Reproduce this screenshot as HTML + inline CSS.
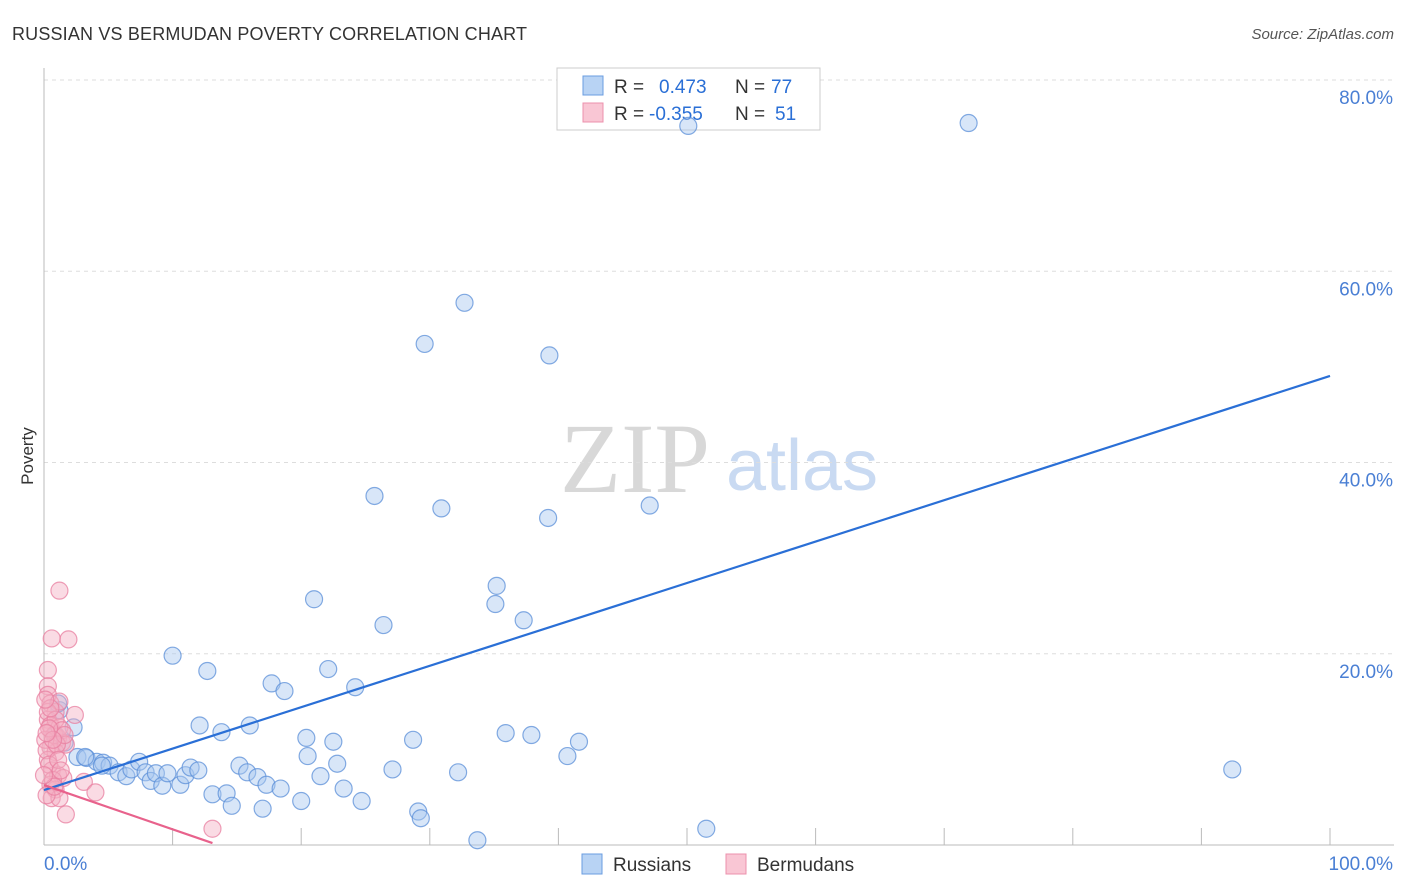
<!DOCTYPE html>
<html><head><meta charset="utf-8"><style>
body{margin:0;background:#fff;font-family:"Liberation Sans",sans-serif;}
svg{display:block}
</style></head><body>
<svg id="chart" width="1406" height="892" viewBox="0 0 1406 892">
<text x="12" y="40" font-size="18" fill="#333" textLength="515">RUSSIAN VS BERMUDAN POVERTY CORRELATION CHART</text>
<text x="1394" y="39" font-size="15" fill="#555" text-anchor="end" font-style="italic">Source: ZipAtlas.com</text>
<text x="33" y="456" font-size="17" fill="#333" text-anchor="middle" transform="rotate(-90 33 456)">Poverty</text>
<g>
<text x="635" y="492" font-size="100" fill="#d8d8d8" text-anchor="middle" font-family="Liberation Serif,serif">ZIP</text>
<text x="802" y="490" font-size="72" fill="#c9daf2" text-anchor="middle">atlas</text>
</g>
<g id="grid"></g><g id="axes"></g>
<g>
<rect x="557" y="68" width="263" height="62" fill="#fff" stroke="#ccc"/>
<rect x="583" y="76" width="20" height="19" fill="#b8d3f4" stroke="#6a9ce0"/>
<rect x="583" y="103" width="20" height="19" fill="#f9c6d4" stroke="#ec90ac"/>
<text font-size="19" fill="#333"><tspan x="614" y="93">R =</tspan><tspan x="659" y="93" fill="#2a6fd6">0.473</tspan><tspan x="735" y="93">N =</tspan><tspan x="771" y="93" fill="#2a6fd6">77</tspan></text>
<text font-size="19" fill="#333"><tspan x="614" y="120">R =</tspan><tspan x="649" y="120" fill="#2a6fd6">-0.355</tspan><tspan x="735" y="120">N =</tspan><tspan x="775" y="120" fill="#2a6fd6">51</tspan></text>
</g>
<g id="pts"></g><g id="trends"></g>
<g>
<rect x="582" y="854" width="20" height="20" fill="#b8d3f4" stroke="#6a9ce0"/>
<text x="613" y="871" font-size="19" fill="#333">Russians</text>
<rect x="726" y="854" width="20" height="20" fill="#f9c6d4" stroke="#ec90ac"/>
<text x="757" y="871" font-size="19" fill="#333">Bermudans</text>
</g>
</svg>
<script>
const yTicks=[20,40,60,80];
const yTickLabels=["20.0%","40.0%","60.0%","80.0%"];
const xTickLabels=["0.0%","100.0%"];
const russiansX=[50.1,71.9,32.7,29.6,39.3,25.7,30.9,39.2,47.1,35.2,35.1,37.3,21.0,26.4,10.0,12.7,22.1,17.7,18.7,24.2,12.1,16.0,13.8,20.4,22.5,28.7,35.9,37.9,41.6,20.5,22.8,27.1,32.2,40.7,2.3,1.2,1.1,0.9,1.6,2.6,3.3,4.1,4.6,5.1,5.8,6.4,6.8,7.4,7.9,8.3,8.7,9.2,9.6,10.6,11.0,11.4,12.0,13.1,14.2,15.2,15.8,16.6,17.3,18.4,14.6,17.0,20.0,21.5,23.3,24.7,29.1,29.3,33.7,51.5,92.4,4.5,3.2];
const russiansY=[75.2,75.5,56.7,52.4,51.2,36.5,35.2,34.2,35.5,27.1,25.2,23.5,25.7,23.0,19.8,18.2,18.4,16.9,16.1,16.5,12.5,12.5,11.8,11.2,10.8,11.0,11.7,11.5,10.8,9.3,8.5,7.9,7.6,9.3,12.3,14.1,14.8,11.5,10.7,9.2,9.1,8.7,8.6,8.3,7.6,7.2,7.9,8.7,7.6,6.7,7.5,6.2,7.5,6.3,7.3,8.1,7.8,5.3,5.4,8.3,7.6,7.1,6.3,5.9,4.1,3.8,4.6,7.2,5.9,4.6,3.5,2.8,0.5,1.7,7.9,8.3,9.2];
const bermudansX=[1.2,0.6,1.9,0.3,0.3,0.3,0.5,0.9,1.2,2.4,0.3,0.6,1.1,1.4,0.5,0.9,0.3,0.6,1.1,1.5,0.5,0.9,0.6,1.2,1.7,3.1,4.0,13.1,0.3,0.5,0.8,1.2,0.1,0.2,0.4,0.7,0.2,0.9,1.4,1.7,0.5,0.1,1.0,1.6,0.4,0.7,0.2,1.1,1.3,0.8,0.0];
const bermudansY=[26.6,21.6,21.5,18.3,16.6,15.7,14.8,13.9,15.0,13.6,13.1,12.0,11.2,10.7,10.2,9.7,8.9,7.8,7.3,7.0,6.3,5.8,4.9,4.9,3.2,6.6,5.5,1.7,13.9,12.5,11.5,12.3,11.0,9.9,8.4,6.8,5.2,13.1,12.0,10.5,14.3,15.2,10.5,11.5,12.2,11.0,11.7,8.9,7.8,6.1,7.3];
const russiansTrend=[[0,5.75],[100,49.05]];
const bermudansTrend=[[0,6.27],[13.1,0.2]];

const NS="http://www.w3.org/2000/svg";
const X0=44,X1=1330,Y0=845,YS=9.5625;
function sx(v){return X0+(X1-X0)*v/100;}
function sy(v){return Y0-v*YS;}
function mk(tag,attrs,parent){const e=document.createElementNS(NS,tag);for(const k in attrs)e.setAttribute(k,attrs[k]);parent.appendChild(e);return e;}
const grid=document.getElementById('grid'),axes=document.getElementById('axes'),pts=document.getElementById('pts'),tr=document.getElementById('trends');
yTicks.forEach((t,i)=>{
 const l=mk('line',{x1:X0,x2:1394,y1:sy(t),y2:sy(t),stroke:'#ddd','stroke-dasharray':'4,4'},grid);
 
 
 const tx=mk('text',{x:1393,y:sy(t)+24,'font-size':19,fill:'#4a7fd4','text-anchor':'end'},grid);
 tx.textContent=yTickLabels[i];
 
 
});
const ya=mk('line',{x1:X0,x2:X0,y1:68,y2:Y0,stroke:'#bbb'},axes);


const xa=mk('line',{x1:X0,x2:1394,y1:Y0,y2:Y0,stroke:'#bbb'},axes);


for(let k=1;k<=10;k++){
 const t=mk('line',{x1:sx(k*10),x2:sx(k*10),y1:828,y2:Y0,stroke:'#bbb'},axes);
 
 
}
[[X0,'start',xTickLabels[0]],[1393,'end',xTickLabels[1]]].forEach(a=>{
 const t=mk('text',{x:a[0],y:870,'font-size':19,fill:'#4a7fd4','text-anchor':a[1]},axes);
 t.textContent=a[2];
 
 
});
function drawPts(xs,ys,fill,stroke,name){
 xs.forEach((x,i)=>{
  const c=mk('circle',{cx:sx(x),cy:sy(ys[i]),r:8.5,fill:fill,'fill-opacity':0.45,stroke:stroke,'stroke-opacity':0.75,'stroke-width':1.2},pts);
  
  
 });
}
drawPts(russiansX,russiansY,'#a8c8f0','#5b8fd8','russians-point');
drawPts(bermudansX,bermudansY,'#f4b0c4','#e87fa0','bermudans-point');
const l1=mk('line',{x1:sx(russiansTrend[0][0]),y1:sy(russiansTrend[0][1]),x2:sx(russiansTrend[1][0]),y2:sy(russiansTrend[1][1]),stroke:'#2a6fd6','stroke-width':2.2},tr);


const l2=mk('line',{x1:sx(bermudansTrend[0][0]),y1:sy(bermudansTrend[0][1]),x2:sx(bermudansTrend[1][0]),y2:sy(bermudansTrend[1][1]),stroke:'#e8628c','stroke-width':2.2},tr);


</script>
</body></html>
